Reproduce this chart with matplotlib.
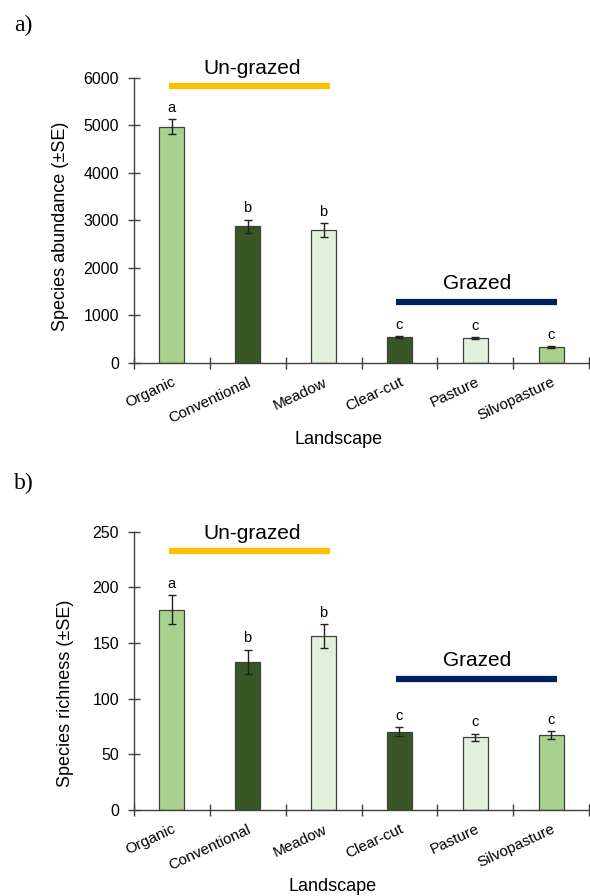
import matplotlib
matplotlib.use("Agg")
import matplotlib.pyplot as plt
import numpy as np

plt.rcParams['font.family'] = ['Liberation Sans', 'DejaVu Sans']

# Data
landscapes = ['Organic', 'Conventional', 'Meadow', 'Clear-cut', 'Pasture', 'Silvopasture']
bar_colors = ['#a9d18e', '#375623', '#e2efda', '#375623', '#e2efda', '#a9d18e']

abundance = [4970, 2880, 2800, 540, 514, 331]
abundance_se = [160, 137, 150, 25, 20, 15]
abundance_letters = ['a', 'b', 'b', 'c', 'c', 'c']

richness = [180, 133, 156, 70, 65, 67]
richness_se = [13, 11, 11, 4, 3.5, 3.5]
richness_letters = ['a', 'b', 'b', 'c', 'c', 'c']

W, H = 590, 896
fig = plt.figure(figsize=(W / 100, H / 100), dpi=100)


def px_axes(x0, x1, ytop, ybot):
    return fig.add_axes([x0 / W, 1 - ybot / H, (x1 - x0) / W, (ybot - ytop) / H])


def draw_panel(ax, vals, se, letters, ymax, ystep, ylabel, ug_y, g_y, ug_txt_y, g_txt_y):
    x = np.arange(len(vals)) + 0.5
    ax.bar(x, vals, width=0.32, color=bar_colors, edgecolor='#404040', linewidth=0.9, zorder=2)
    ax.errorbar(x, vals, yerr=se, fmt='none', ecolor='#202020', elinewidth=1.0,
                capsize=3, capthick=1.0, zorder=3)
    for xi, v, s, l in zip(x, vals, se, letters):
        ax.annotate(l, (xi, v + s), xytext=(0, 3), textcoords='offset points',
                    ha='center', va='bottom', fontsize=10.5)

    ax.set_xlim(0, len(vals))
    ax.set_ylim(0, ymax)
    ax.set_yticks(np.arange(0, ymax + 1, ystep))
    ax.set_xticks(np.arange(0, len(vals) + 1))
    ax.set_xticklabels([])
    ax.set_xticks(x, minor=True)
    ax.set_xticklabels(landscapes, minor=True, rotation=25, ha='right',
                       rotation_mode='anchor', fontsize=11)
    ax.tick_params(axis='x', which='minor', length=0, pad=9)
    ax.tick_params(axis='both', which='major', direction='inout', length=8,
                   width=1, color='#404040', labelsize=11.5)
    ax.tick_params(axis='y', which='major', pad=6.5)
    for side in ['top', 'right']:
        ax.spines[side].set_visible(False)
    for side in ['left', 'bottom']:
        ax.spines[side].set_color('#404040')
        ax.spines[side].set_linewidth(1)

    # group bars
    ax.plot([0.47, 2.58], [ug_y, ug_y], color='#ffc000', lw=4.5,
            solid_capstyle='butt', clip_on=False)
    ax.plot([3.46, 5.58], [g_y, g_y], color='#002060', lw=4.5,
            solid_capstyle='butt', clip_on=False)
    ax.text(1.56, ug_txt_y, 'Un-grazed', ha='center', va='center', fontsize=15)
    ax.text(4.52, g_txt_y, 'Grazed', ha='center', va='center', fontsize=15)
    ax.set_ylabel(ylabel, fontsize=13)


ax1 = px_axes(133.6, 589.4, 78, 362.7)
draw_panel(ax1, abundance, abundance_se, abundance_letters, 6000, 1000,
           'Species abundance (\u00b1SE)', 5838, 1272, 6204, 1659)
ax1.yaxis.set_label_coords(-65 / 455.8, 0.478)

ax2 = px_axes(133.6, 589.4, 531.7, 809.7)
draw_panel(ax2, richness, richness_se, richness_letters, 250, 50,
           'Species richness (\u00b1SE)', 232.9, 117.8, 248, 134.6)
ax2.yaxis.set_label_coords(-60 / 455.8, 0.417)

fig.text(339 / W, 1 - 439 / H, 'Landscape', ha='center', va='center', fontsize=13)
fig.text(333 / W, 1 - 886 / H, 'Landscape', ha='center', va='center', fontsize=13)

fig.text(14 / W, 1 - 25 / H, 'a)', ha='left', va='center', fontsize=17,
         family='Liberation Serif')
fig.text(14 / W, 1 - 483 / H, 'b)', ha='left', va='center', fontsize=17,
         family='Liberation Serif')

fig.savefig('out.png', dpi=100)
